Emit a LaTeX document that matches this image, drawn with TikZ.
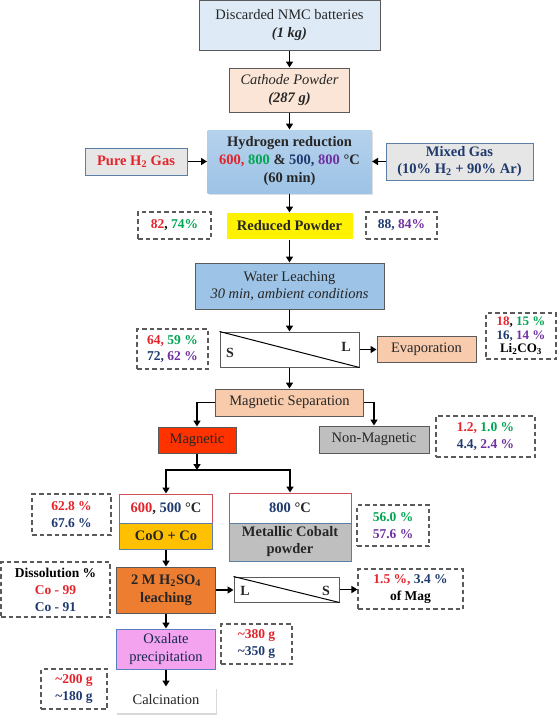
\documentclass[tikz,border=0pt]{standalone}
\usepackage{fontspec}
\setmainfont{Liberation Serif}
\usetikzlibrary{arrows.meta,shadows}
\definecolor{cred}{HTML}{E3242B}
\definecolor{cgreen}{HTML}{00A651}
\definecolor{cblue}{HTML}{1F3A6E}
\definecolor{cpurple}{HTML}{7030A0}
\definecolor{edge}{HTML}{5A5A5A}
\definecolor{steel}{HTML}{5B7FA6}
\definecolor{txt}{HTML}{262626}
\definecolor{lightblue}{HTML}{DEEBF7}
\definecolor{midblue}{HTML}{9DC3E6}
\definecolor{peach}{HTML}{FBE5D6}
\definecolor{peachdark}{HTML}{F8CBAD}
\definecolor{lgray}{HTML}{E7E6E6}
\definecolor{mgray}{HTML}{BFBFBF}
\definecolor{magred}{HTML}{FF3300}
\definecolor{gold}{HTML}{FFC000}
\definecolor{orange}{HTML}{ED7D31}
\definecolor{pink}{HTML}{F4A3EF}
\definecolor{redge}{HTML}{D05055}
\definecolor{oxedge}{HTML}{5A7FC0}
\tikzset{
  base/.style={draw=edge, line width=1pt, align=center, inner sep=0pt, text=txt,
    font=\fontsize{14.5}{17.5}\selectfont},
  dbox/.style={draw=edge, dash pattern=on 4.5pt off 3pt, line width=1.1pt, align=center,
    inner sep=0pt, font=\bfseries\fontsize{13.5}{16.5}\selectfont},
  arr/.style={line width=1.8pt, -{Triangle[length=6pt,width=7pt]}},
  ln/.style={line width=1.8pt, line cap=rect},
  thin/.style={line width=1pt, draw=black},
  lab/.style={font=\bfseries\fontsize{14}{16}\selectfont, text=txt, inner sep=0pt},
}
\begin{document}
\begin{tikzpicture}[x=1pt,y=-1pt]
\useasboundingbox (0,0) rectangle (557,716);
% main column
\node[base, fill=lightblue, minimum width=181pt, minimum height=50pt] (disc) at (289.5,25)
  {Discarded NMC batteries\\ \textbf{\textit{(1 kg)}}};
\node[base, fill=peach, minimum width=120pt, minimum height=44pt] (cath) at (289.5,90)
  {\textit{Cathode Powder}\\ \textbf{\textit{(287 g)}}};
\node[base, draw=none, top color=midblue!75, bottom color=midblue, minimum width=164pt, minimum height=63pt,
  drop shadow={shadow xshift=1.5pt, shadow yshift=-1.5pt, opacity=0.25}, font=\bfseries\fontsize{14.5}{18}\selectfont] (hred) at (289.5,161.5)
  {Hydrogen reduction\\ \textcolor{cred}{600,} \textcolor{cgreen}{800} \& \textcolor{cblue}{500,} \textcolor{cpurple}{800} °C\\ (60 min)};
\node[base, draw=steel, fill=lgray, minimum width=102pt, minimum height=27pt, text=cred, font=\bfseries\fontsize{14.5}{17.5}\selectfont] (pure) at (136,161.5)
  {Pure H\textsubscript{2} Gas};
\node[base, draw=steel, fill=lgray, minimum width=147pt, minimum height=37pt, text=cblue, font=\bfseries\fontsize{14.5}{17}\selectfont] (mixed) at (459.5,161.5)
  {Mixed Gas\\ (10\% H\textsubscript{2} + 90\% Ar)};
\node[base, draw=none, fill=yellow, minimum width=126pt, minimum height=26pt, font=\bfseries\fontsize{14.5}{17.5}\selectfont] (red) at (289.5,226)
  {Reduced Powder};
\node[dbox, minimum width=73pt, minimum height=27pt] (d82) at (174.5,225.5)
  {\textcolor{cred}{82}, \textcolor{cgreen}{74\%}};
\node[dbox, minimum width=71pt, minimum height=27pt] (d88) at (401.5,225.5)
  {\textcolor{cblue}{88,} \textcolor{cpurple}{84\%}};
\node[base, fill=midblue, minimum width=189pt, minimum height=46pt] (water) at (289.5,286)
  {Water Leaching\\ \textit{30 min, ambient conditions}};
\node[base, fill=white, minimum width=139pt, minimum height=35pt] (sl) at (289.5,349.5) {};
\draw[thin] (sl.north west) -- (sl.south east);
\node[lab] (slS) at (230,352.5) {S};
\node[lab] (slL) at (346,347) {L};
\node[base, fill=peachdark, minimum width=99pt, minimum height=26pt] (evap) at (426.5,349.5) {Evaporation};
\node[dbox, minimum width=71pt, minimum height=40pt] (d64) at (172.5,349)
  {\textcolor{cred}{64,} \textcolor{cgreen}{59 \%}\\ \textcolor{cblue}{72,} \textcolor{cpurple}{62 \%}};
\node[dbox, minimum width=70pt, minimum height=46pt, font=\bfseries\fontsize{13}{13.5}\selectfont] (d18) at (521,336)
  {\textcolor{cred}{18}, \textcolor{cgreen}{15 \%}\\ \textcolor{cblue}{16,} \textcolor{cpurple}{14 \%}\\ Li\textsubscript{2}CO\textsubscript{3}};
\node[base, fill=peachdark, minimum width=148pt, minimum height=27pt] (magsep) at (289.5,402.5) {Magnetic Separation};
\node[base, fill=magred, minimum width=78pt, minimum height=26pt] (mag) at (197,440) {Magnetic};
\node[base, fill=mgray, minimum width=110pt, minimum height=27pt] (nonmag) at (374,439.5) {Non-Magnetic};
\node[dbox, minimum width=99pt, minimum height=41pt] (d12) at (485.5,436.5)
  {\textcolor{cred}{1.2,} \textcolor{cgreen}{1.0 \%}\\ \textcolor{cblue}{4.4,} \textcolor{cpurple}{2.4 \%}};
\coordinate (split) at (197,470);
% CoO column
\node[base, draw=redge, fill=white, minimum width=93pt, minimum height=29pt, font=\bfseries\fontsize{14.5}{17.5}\selectfont] (coot) at (166,508.5)
  {\textcolor{cred}{600}, \textcolor{cblue}{500} °C};
\node[base, draw=steel, fill=gold, minimum width=93pt, minimum height=26pt, font=\bfseries\fontsize{14.5}{17.5}\selectfont] (coob) at (166,536)
  {CoO + Co};
\node[base, draw=redge, fill=white, minimum width=122pt, minimum height=30pt, font=\bfseries\fontsize{14.5}{17.5}\selectfont] (mett) at (290,508)
  {\textcolor{cblue}{800} °C};
\node[base, draw=steel, fill=mgray, minimum width=122pt, minimum height=38pt, font=\bfseries\fontsize{14.5}{17}\selectfont] (metb) at (290,542)
  {Metallic Cobalt\\ powder};
\node[dbox, minimum width=79pt, minimum height=41pt] (d628) at (71.5,514.5)
  {\textcolor{cred}{62.8 \%}\\ \textcolor{cblue}{67.6 \%}};
\node[dbox, minimum width=72pt, minimum height=41pt] (d56) at (393,525.5)
  {\textcolor{cgreen}{56.0 \%}\\ \textcolor{cpurple}{57.6 \%}};
\node[base, fill=orange, minimum width=99pt, minimum height=46pt, font=\bfseries\fontsize{14.5}{18}\selectfont] (h2so4) at (166,590)
  {2 M H\textsubscript{2}SO\textsubscript{4}\\ leaching};
\node[base, fill=white, minimum width=105pt, minimum height=25pt] (ls) at (286.5,589.5) {};
\draw[thin] (ls.north west) -- (ls.south east);
\node[lab] (lsL) at (245,591) {L};
\node[lab] (lsS) at (326,591) {S};
\node[dbox, minimum width=105pt, minimum height=40pt] (d15) at (410.5,589)
  {\textcolor{cred}{1.5 \%,} \textcolor{cblue}{3.4 \%}\\ of Mag};
\node[dbox, minimum width=109pt, minimum height=55pt, font=\bfseries\fontsize{13.5}{17}\selectfont] (diss) at (55.5,589.5)
  {Dissolution \%\\ \textcolor{cred}{Co - 99}\\ \textcolor{cblue}{Co - 91}};
\node[base, draw=oxedge, fill=pink, minimum width=99pt, minimum height=40pt, text=cblue!70!black] (oxa) at (166,649)
  {Oxalate\\ precipitation};
\node[dbox, minimum width=71pt, minimum height=40pt] (d380) at (256.5,644)
  {\textcolor{cred}{\textasciitilde380 g}\\ \textcolor{cblue}{\textasciitilde350 g}};
\node[base, draw=none, fill=white, minimum width=100pt, minimum height=26pt,
  drop shadow={shadow xshift=1pt, shadow yshift=-2pt, opacity=0.3}] (calc) at (166,700) {Calcination};
\node[dbox, minimum width=66pt, minimum height=40pt] (d200) at (74,689)
  {\textcolor{cred}{\textasciitilde200 g}\\ \textcolor{cblue}{\textasciitilde180 g}};
% connectors
\draw[arr] (disc.south) -- (cath.north);
\draw[arr] (cath.south) -- (hred.north);
\draw[arr] (pure.east) -- (hred.west);
\draw[arr] (mixed.west) -- (hred.east);
\draw[arr] (hred.south) -- (red.north);
\draw[arr] (red.south) -- (water.north);
\draw[arr] (water.south) -- (sl.north);
\draw[arr] (sl.east) -- (sl.east -| evap.west);
\draw[arr] (sl.south) -- (magsep.north);
\draw[arr] (magsep.west) -| (mag.north);
\draw[arr] (magsep.east) -| (nonmag.north);
\draw[arr] (mag.south) -- (split);
\draw[ln] (split -| coot.north) -- (split -| mett.north);
\draw[arr] (split -| coot.north) -- (coot.north);
\draw[arr] (split -| mett.north) -- (mett.north);
\draw[arr] (coob.south) -- (h2so4.north);
\draw[arr] (h2so4.east) -- (h2so4.east -| ls.west);
\draw[arr] (ls.east) -- (ls.east -| d15.west);
\draw[arr] (h2so4.south) -- (oxa.north);
\draw[arr] (oxa.south) -- (calc.north);
\end{tikzpicture}
\end{document}
